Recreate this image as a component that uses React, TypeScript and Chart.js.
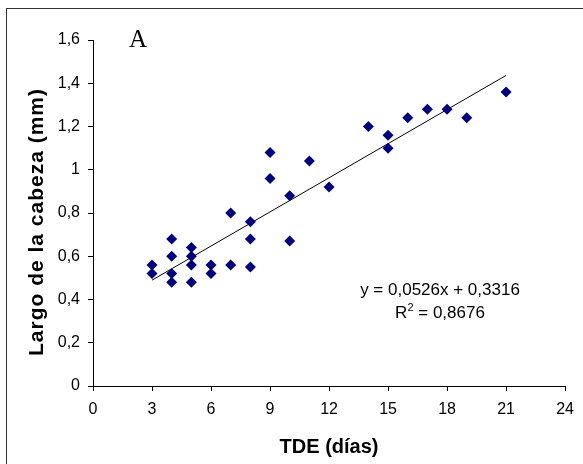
import React, { useEffect, useRef } from "react";
import { Chart, registerables } from "chart.js";

Chart.register(...registerables);

const tdeDays = [3, 3, 4, 4, 4, 4, 5, 5, 5, 5, 6, 6, 7, 7, 8, 8, 8, 9, 9, 10, 10, 11, 12, 14, 15, 15, 16, 17, 18, 19, 21];
const headLength = [0.56, 0.52, 0.68, 0.6, 0.52, 0.48, 0.64, 0.6, 0.56, 0.48, 0.56, 0.52, 0.8, 0.56, 0.76, 0.68, 0.55, 1.08, 0.96, 0.88, 0.67, 1.04, 0.92, 1.2, 1.16, 1.1, 1.24, 1.28, 1.28, 1.24, 1.36];
const trendSlope = 0.0526;
const trendIntercept = 0.3316;
const trendXRange = [3, 21];
const xTicks = [0, 3, 6, 9, 12, 15, 18, 21, 24];
const yTicks = [0, 0.2, 0.4, 0.6, 0.8, 1, 1.2, 1.4, 1.6];
const equationText = "y = 0,0526x + 0,3316";
const r2Value = "0,8676";
const panelLabel = "A";
const xTitle = "TDE (días)";
const yTitle = "Largo de la cabeza (mm)";

const FONT = "'Liberation Sans', Arial, sans-serif";

const fmt = (v: number) => {
  const r = Math.round(v * 10) / 10;
  return (Number.isInteger(r) ? String(r) : r.toFixed(1)).replace(".", ",");
};

const overlayPlugin = {
  id: "overlay",
  afterDraw(chart: any) {
    const ctx = chart.ctx;
    const area = chart.chartArea;
    ctx.save();
    // outer frame
    ctx.strokeStyle = "#333";
    ctx.lineWidth = 1;
    ctx.strokeRect(6.5, 8.5, 700, 600);
    ctx.fillStyle = "#000";
    // panel label
    ctx.font = "25px 'Liberation Serif', 'Times New Roman', serif";
    ctx.textAlign = "left";
    ctx.textBaseline = "alphabetic";
    ctx.fillText(panelLabel, 129, 47);
    // axis titles
    ctx.font = `bold 20px ${FONT}`;
    ctx.textAlign = "center";
    ctx.textBaseline = "middle";
    ctx.fillText(xTitle, (area.left + area.right) / 2, 447);
    ctx.save();
    ctx.translate(37, 222);
    ctx.rotate(-Math.PI / 2);
    ctx.font = `bold 21px ${FONT}`;
    const w = ctx.measureText(yTitle).width;
    const extra = (267 - w) / (yTitle.length - 1);
    (ctx as any).letterSpacing = `${Math.max(0, extra)}px`;
    ctx.fillText(yTitle, 0, 0);
    ctx.restore();
    // equation
    ctx.font = `17px ${FONT}`;
    ctx.textAlign = "center";
    ctx.textBaseline = "middle";
    ctx.fillText(equationText, 440, 290);
    // R² line
    const part1 = "R";
    const part3 = " = " + r2Value;
    const w1 = ctx.measureText(part1).width;
    const w3 = ctx.measureText(part3).width;
    ctx.font = `11px ${FONT}`;
    const w2 = ctx.measureText("2").width;
    const total = w1 + w2 + w3;
    let x = 440 - total / 2;
    ctx.textAlign = "left";
    ctx.font = `17px ${FONT}`;
    ctx.fillText(part1, x, 313);
    x += w1;
    ctx.font = `11px ${FONT}`;
    ctx.fillText("2", x, 308);
    x += w2;
    ctx.font = `17px ${FONT}`;
    ctx.fillText(part3, x, 313);
    ctx.restore();
  },
};

export default function App() {
  const ref = useRef<HTMLCanvasElement | null>(null);
  useEffect(() => {
    if (!ref.current) return;
    const points = tdeDays.map((x, i) => ({ x, y: headLength[i] }));
    const trend = trendXRange.map((x) => ({ x, y: trendSlope * x + trendIntercept }));
    const chart = new Chart(ref.current, {
      type: "scatter",
      data: {
        datasets: [
          {
            label: "datos",
            data: points,
            pointStyle: "rectRot",
            pointRadius: 5.5,
            backgroundColor: "#000080",
            borderColor: "#000080",
            borderWidth: 0,
          },
          {
            label: "tendencia",
            type: "line",
            data: trend,
            borderColor: "#000",
            borderWidth: 1,
            pointRadius: 0,
            fill: false,
          } as any,
        ],
      },
      options: {
        animation: false,
        responsive: false,
        maintainAspectRatio: false,
        layout: { padding: { top: 40, right: 17, left: 0, bottom: 0 } },
        plugins: { legend: { display: false }, tooltip: { enabled: false } },
        scales: {
          x: {
            type: "linear",
            min: 0,
            max: 24,
            afterBuildTicks: (s: any) => {
              s.ticks = xTicks.map((v) => ({ value: v }));
            },
            afterFit: (s: any) => {
              s.height = 78;
            },
            ticks: { color: "#000", font: { family: FONT, size: 16 }, padding: 9, callback: (v: any) => fmt(Number(v)) },
            grid: { display: true, drawOnChartArea: false, drawTicks: true, tickLength: 5, color: "#000" },
            border: { display: true, color: "#000", width: 1 },
          },
          y: {
            type: "linear",
            min: 0,
            max: 1.6,
            afterBuildTicks: (s: any) => {
              s.ticks = yTicks.map((v) => ({ value: v }));
            },
            afterFit: (s: any) => {
              s.width = 93;
            },
            ticks: { color: "#000", font: { family: FONT, size: 16 }, padding: 8, callback: (v: any) => fmt(Number(v)) },
            grid: { display: true, drawOnChartArea: false, drawTicks: true, tickLength: 5, color: "#000" },
            border: { display: true, color: "#000", width: 1 },
          },
        },
      },
      plugins: [overlayPlugin],
    });
    return () => chart.destroy();
  }, []);
  return (
    <div style={{ position: "fixed", left: 0, top: 0, width: 583, height: 464, background: "#fff" }}>
      <canvas ref={ref} width={583} height={464} style={{ width: 583, height: 464, display: "block" }} />
    </div>
  );
}
